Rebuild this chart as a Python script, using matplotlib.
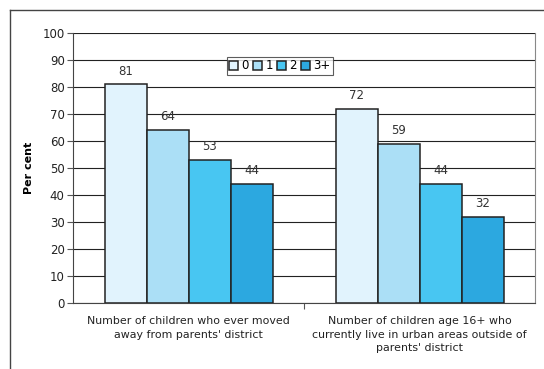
import matplotlib.pyplot as plt
import numpy as np
from matplotlib.lines import Line2D

categories = ["Number of children who ever moved\naway from parents' district",
              "Number of children age 16+ who\ncurrently live in urban areas outside of\nparents' district"]
series_names = ["0", "1", "2", "3+"]
values = {
    "0": [81, 72],
    "1": [64, 59],
    "2": [53, 44],
    "3+": [44, 32],
}
colors = ["#E1F3FD", "#ABDFF6", "#48C6F2", "#2CA8E0"]

fig = plt.figure(figsize=(5.44, 3.69), dpi=100)
ax = fig.add_axes([73 / 544, 1 - 303 / 369, 462 / 544, 270 / 369])

bar_w = 42 / 231
x = np.arange(len(categories))
for i, name in enumerate(series_names):
    pos = x + (i - 1.5) * bar_w
    bars = ax.bar(pos, values[name], width=bar_w, color=colors[i],
                  edgecolor="#222222", linewidth=1.1, label=name, zorder=3)
    for b, v in zip(bars, values[name]):
        ax.text(b.get_x() + b.get_width() / 2, v + 2.5, str(v), ha="center",
                va="bottom", fontsize=8.5, color="#333333")

ax.set_xlim(-0.5, 1.5)
ax.set_ylim(0, 100)
ax.set_yticks(range(0, 101, 10))
ax.yaxis.grid(True, color="#222222", linewidth=0.8, zorder=0)
ax.set_xticks([0.5])
ax.set_xticklabels([""])
ax.tick_params(axis="x", length=4, color="#555555")
ax.tick_params(axis="y", length=4, color="#555555", labelsize=8.5, labelcolor="#222222", pad=2)
for i, c in enumerate(categories):
    ax.text(i, -4.8, c, ha="center", va="top", fontsize=7.9, color="#222222",
            transform=ax.transData, linespacing=1.45)

ax.spines["top"].set_visible(False)
ax.spines["right"].set_color("#888888")
ax.spines["left"].set_color("#444444")
ax.spines["bottom"].set_color("#444444")

ax.set_ylabel("Per cent", fontsize=8, fontweight="bold", labelpad=6)

leg = ax.legend(loc="center", bbox_to_anchor=(0.448, 0.878), ncol=4, fontsize=8.5,
                frameon=True, fancybox=False, edgecolor="#333333",
                handlelength=0.75, handleheight=0.75, handletextpad=0.25,
                columnspacing=0.4, borderpad=0.2, borderaxespad=0)
leg.get_frame().set_linewidth(0.8)

# outer chart frame (clipped)
fig.add_artist(Line2D([10 / 544, 1], [1 - 10 / 369, 1 - 10 / 369], color="#444444", linewidth=1.0))
fig.add_artist(Line2D([10 / 544, 10 / 544], [0, 1 - 10 / 369], color="#444444", linewidth=1.0))

fig.savefig("out.png", dpi=100)
